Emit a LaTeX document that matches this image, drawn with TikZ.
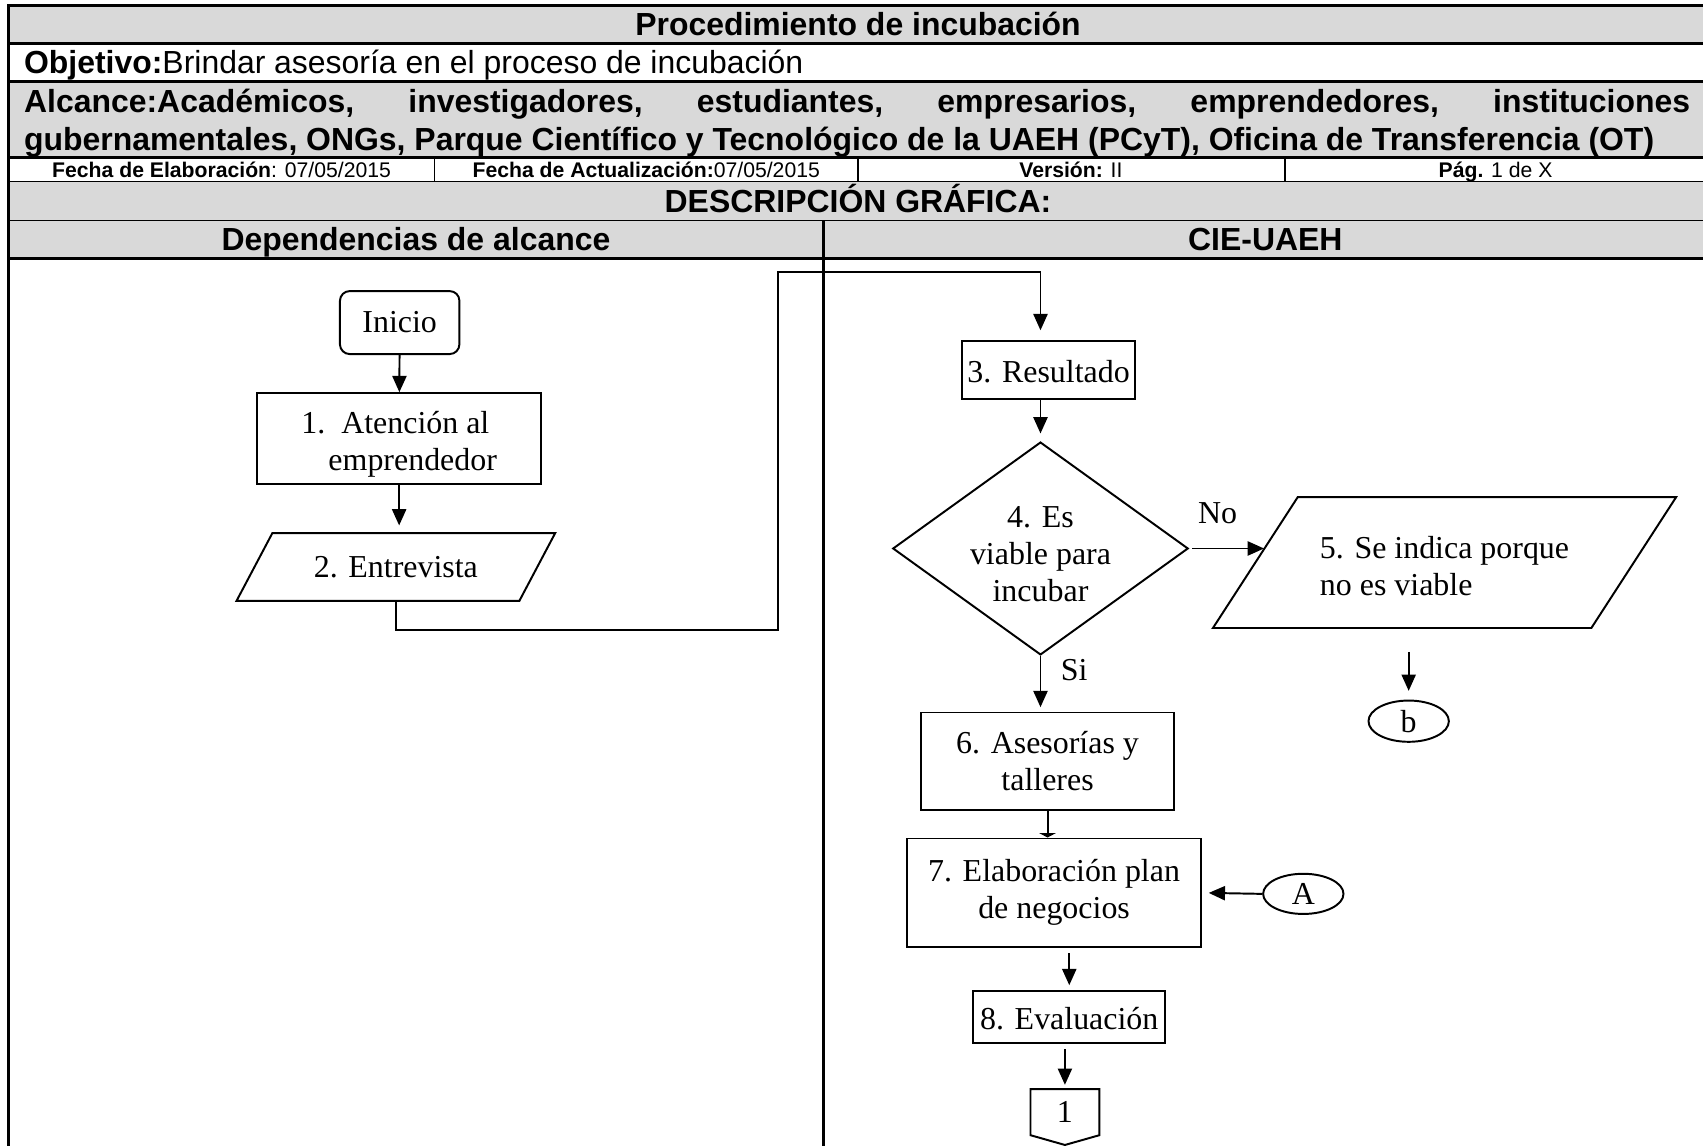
\documentclass[tikz,border=0pt]{standalone}
\usepackage{fontspec}
\setmainfont{Liberation Serif}
\setsansfont{Liberation Sans}
\usetikzlibrary{shapes.geometric, arrows.meta}

\definecolor{kopfgrau}{HTML}{D9D9D9}

\tikzset{
	kopf/.style={font=\sffamily\bfseries\fontsize{29.4}{35}\selectfont, inner sep=0pt},
	zeile/.style={font=\sffamily\fontsize{29.4}{35}\selectfont, inner sep=0pt},
	klein/.style={font=\sffamily\fontsize{19.5}{23}\selectfont, inner sep=0pt},
	kasten/.style={draw, line width=1.8pt, font=\fontsize{29.4}{34}\selectfont, align=center, inner sep=0pt},
	raute/.style={kasten, diamond, aspect=1.39},
	daten/.style={font=\fontsize{29.4}{34}\selectfont, align=left, inner sep=0pt},
	marke/.style={kasten, ellipse},
	etikett/.style={font=\fontsize{29.4}{34}\selectfont, inner sep=0pt, anchor=base},
	pfeil/.style={line width=1.8pt, -{Triangle[length=15pt,width=13pt]}}
}

\begin{document}
\begin{tikzpicture}[x=1pt, y=-1pt]
	\useasboundingbox (0,0) rectangle (1568,1055);
	% Kopf: Hintergrund
	\fill[kopfgrau] (8,5) rectangle (1572,40);
	\fill[kopfgrau] (8,75) rectangle (1572,145);
	\fill[kopfgrau] (8,167) rectangle (1572,238);
	% Kopf: Linien
	\foreach \y/\w in {5/2, 40/2.5, 75/2.5, 145/2.5, 167/1.2, 203/1.2, 238/2.5}
		\draw[line width=\w pt] (8,\y) -- (1572,\y);
	\foreach \x in {400,790,1183}
		\draw[line width=1.2pt] (\x,145) -- (\x,168);
	\draw[line width=2.5pt] (8,4) -- (8,1060);
	\draw[line width=2.5pt] (758,203) -- (758,1060);

	% Kopf: Texte
	\node[kopf, anchor=base] (titel) at (790,32.5) {Procedimiento de incubación};
	\node[zeile, anchor=base west] (objetivo) at (22,67.5) {\textbf{Objetivo:}Brindar asesoría en el proceso de incubación};
	\node[kopf, anchor=base west] (alcance) at (22,103.5) {\makebox[1534pt][s]{Alcance:Académicos, investigadores, estudiantes, empresarios, emprendedores, instituciones}};
	\node[kopf, anchor=base west] (alcancezwei) at (22,138.5) {gubernamentales, ONGs, Parque Científico y Tecnológico de la UAEH (PCyT), Oficina de Transferencia (OT)};
	\node[klein, anchor=base] (elab) at (204,163) {\textbf{Fecha de Elaboración}: 07/05/2015};
	\node[klein, anchor=base] (actual) at (595,163) {\textbf{Fecha de Actualización:}07/05/2015};
	\node[klein, anchor=base] (version) at (986,163) {\textbf{Versión:} II};
	\node[klein, anchor=base] (pag) at (1377,163) {\textbf{Pág.} 1 de X};
	\node[kopf, anchor=base] (descr) at (790,195.5) {DESCRIPCIÓN GRÁFICA:};
	\node[kopf, anchor=base] (dep) at (383,230.5) {Dependencias de alcance};
	\node[kopf, anchor=base] (cie) at (1165,230.5) {CIE-UAEH};

	% Ablauf links
	\node[kasten, rounded corners=9pt, minimum width=110pt, minimum height=58pt] (inicio) at (368,297) {Inicio};
	\node[kasten, minimum width=261pt, minimum height=84pt, align=left] (aten) at (367.5,404) {\rule{0pt}{30pt}1.~~Atención al\\\hspace*{25pt}emprendedor};
	\node[daten, align=center, minimum width=260pt, minimum height=62pt] (entre) at (364.5,522) {2. Entrevista};
	\draw[line width=1.8pt] ([xshift=16.5pt]entre.north west) -- ([xshift=16.5pt]entre.north east)
		-- ([xshift=-16.5pt]entre.south east) -- ([xshift=-16.5pt]entre.south west) -- cycle;

	% Ablauf rechts
	\node[kasten, minimum width=159pt, minimum height=53pt] (res) at (965.5,340.5) {\rule{0pt}{24pt}3. Resultado};
	\node[raute, minimum width=272pt, minimum height=196pt] (dec) at (958,505) {\rule{0pt}{30pt}4. Es\\viable para\\incubar};
	\node[daten, minimum width=348pt, minimum height=120pt] (noviable) at (1330,518) {\rule{0pt}{26pt}5. Se indica porque\\no es viable};
	\draw[line width=1.8pt] ([xshift=39pt]noviable.north west) -- ([xshift=39pt]noviable.north east)
		-- ([xshift=-39pt]noviable.south east) -- ([xshift=-39pt]noviable.south west) -- cycle;
	\node[marke, minimum width=74pt, minimum height=38pt] (b) at (1297,664) {b};
	\node[kasten, minimum width=233pt, minimum height=90pt] (ases) at (964.5,701) {6. Asesorías y\\talleres};
	\node[kasten, minimum width=271pt, minimum height=100pt] (plan) at (970.5,822) {7. Elaboración plan\\de negocios};
	\node[marke, minimum width=74pt, minimum height=37pt] (A) at (1200,823) {A};
	\node[kasten, minimum width=177pt, minimum height=48pt] (eval) at (984.5,936) {\rule{0pt}{24pt}8. Evaluación};
	\node[font=\fontsize{29.4}{34}\selectfont, minimum width=63pt, minimum height=42pt, inner sep=0pt] (eins) at (980.5,1024) {1};
	\draw[line width=1.8pt] (eins.south west) -- (eins.north west) -- (eins.north east) -- (eins.south east) -- ([yshift=-9pt]eins.south) -- cycle;
	\node[etikett] (nein) at (1121,482) {No};
	\node[etikett] (si) at (989,627) {Si};

	% Verbindungen
	\coordinate (k1) at (716,580);
	\coordinate (k3) at (958,250);
	\draw[pfeil] (inicio) -- (aten);
	\draw[pfeil, shorten >=7pt] (aten.south) -- (aten.south |- entre.north);
	\draw[pfeil, shorten >=9pt] (entre.south) |- (k1) |- (k3) -- (k3 |- res.north);
	\draw[pfeil, shorten >=7pt] (dec.north |- res.south) -- (dec.north);
	\draw[pfeil, shorten <=3pt] (dec.east) -- ([xshift=8pt]dec.east -| noviable.west);
	\draw[pfeil, shorten >=4pt] (dec.south) -- (dec.south |- ases.north);
	\draw[line width=1.8pt, -{Triangle[length=4pt,width=15pt]}] (ases.south) -- (ases.south |- plan.north);
	\draw[pfeil, shorten >=6pt] (A.west) -- (plan.east);
	\draw[pfeil, shorten <=5pt, shorten >=4pt] (eval.north |- plan.south) -- (eval.north);
	\draw[pfeil, shorten <=5pt, shorten >=4pt] (eins.north |- eval.south) -- (eins.north);
	\draw[pfeil, shorten <=22pt, shorten >=8pt] (b.north |- noviable.south) -- (b.north);
\end{tikzpicture}
\end{document}
